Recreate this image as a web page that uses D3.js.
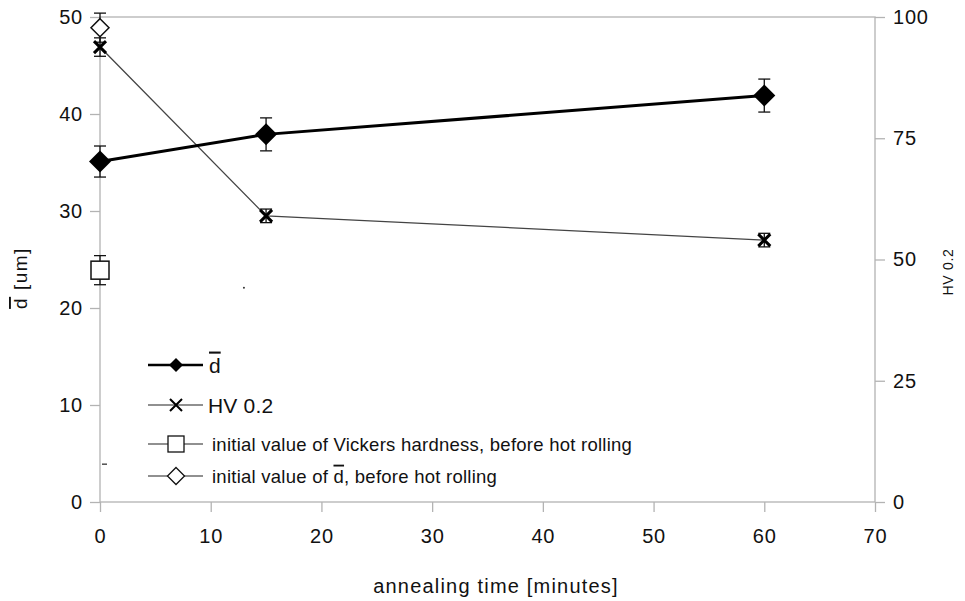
<!DOCTYPE html>
<html>
<head>
<meta charset="utf-8">
<script src="https://cdn.jsdelivr.net/npm/d3@7"></script>
<style>
  body { margin: 0; background: #fff; }
  text { font-family: "Liberation Sans", Arial, sans-serif; fill: #111; }
  .bar { text-decoration: overline; }
</style>
</head>
<body>
<svg id="chart" width="965" height="601"></svg>
<script>
// data
const times = [0, 15, 60];
const dMean = [35.1, 37.9, 41.9];
const dErr = [1.6, 1.7, 1.7];
const hv = [93.8, 59.0, 54.0];
const hvErr = [1.9, 1.4, 1.4];
const initHv = [{ t: 0, v: 47.8, e: 3.0 }];
const initD = [{ t: 0, v: 48.9, e: 1.5 }];
const xTicks = [0, 10, 20, 30, 40, 50, 60, 70];
const leftTicks = [0, 10, 20, 30, 40, 50];
const rightTicks = [0, 25, 50, 75, 100];

const svg = d3.select('#chart');
const pLeft = 100, pRight = 875, pTop = 17, pBottom = 502;
const axisColor = '#b3b3b3';

const x = d3.scaleLinear().domain([0, 70]).range([pLeft, pRight]);
const yL = d3.scaleLinear().domain([0, 50]).range([pBottom, pTop]);
const yR = d3.scaleLinear().domain([0, 100]).range([pBottom, pTop]);

// frame
svg.append('rect')
  .attr('x', pLeft).attr('y', pTop)
  .attr('width', pRight - pLeft).attr('height', pBottom - pTop)
  .attr('fill', 'none').attr('stroke', axisColor).attr('stroke-width', 1.3);

// axes
function styleAxis(g) {
  g.select('.domain').remove();
  g.selectAll('line').attr('stroke', axisColor).attr('stroke-width', 1.3);
  g.selectAll('text').style('font-size', '20px').style('letter-spacing', '0.8px').attr('fill', '#111');
}
svg.append('g').attr('transform', `translate(0,${pBottom})`)
  .call(d3.axisBottom(x).tickValues(xTicks).tickSize(10).tickPadding(17))
  .call(styleAxis);
svg.append('g').attr('transform', `translate(${pLeft},0)`)
  .call(d3.axisLeft(yL).tickValues(leftTicks).tickSize(10).tickPadding(7))
  .call(styleAxis);
svg.append('g').attr('transform', `translate(${pRight},0)`)
  .call(d3.axisRight(yR).tickValues(rightTicks).tickSize(10).tickPadding(8))
  .call(styleAxis);

// stray marks seen in the picture
svg.append('line').attr('x1', pLeft + 2).attr('x2', pLeft + 7)
  .attr('y1', yL(3.9)).attr('y2', yL(3.9)).attr('stroke', '#333').attr('stroke-width', 1.3);
svg.append('circle').attr('cx', x(13)).attr('cy', yL(22.1)).attr('r', 1).attr('fill', '#333');

// axis titles
svg.append('text').attr('x', 496).attr('y', 593)
  .attr('text-anchor', 'middle').style('font-size', '20px').style('letter-spacing', '1.2px')
  .text('annealing time [minutes]');
const yt = svg.append('text').attr('transform', 'translate(27,278) rotate(-90)')
  .attr('text-anchor', 'middle').style('font-size', '19px').style('letter-spacing', '1.5px');
yt.append('tspan').attr('class', 'bar').text('d');
yt.append('tspan').text(' [um]');
svg.append('text').attr('transform', 'translate(953,272) rotate(-90)')
  .attr('text-anchor', 'middle').style('font-size', '14px').style('letter-spacing', '0.7px')
  .text('HV 0.2');

// error bars
function errorBars(data, y, cap) {
  const g = svg.append('g').attr('stroke', '#111').attr('stroke-width', 1.3);
  data.forEach(d => {
    g.append('line').attr('x1', x(d.t)).attr('x2', x(d.t))
      .attr('y1', y(d.v - d.e)).attr('y2', y(d.v + d.e));
    [d.v - d.e, d.v + d.e].forEach(v => {
      g.append('line').attr('x1', x(d.t) - cap).attr('x2', x(d.t) + cap)
        .attr('y1', y(v)).attr('y2', y(v));
    });
  });
}

const dData = times.map((t, i) => ({ t, v: dMean[i], e: dErr[i] }));
const hvData = times.map((t, i) => ({ t, v: hv[i], e: hvErr[i] }));

// HV line
svg.append('path').datum(hvData)
  .attr('d', d3.line().x(d => x(d.t)).y(d => yR(d.v)))
  .attr('fill', 'none').attr('stroke', '#444').attr('stroke-width', 1.3);
errorBars(hvData, yR, 6);

// d line
svg.append('path').datum(dData)
  .attr('d', d3.line().x(d => x(d.t)).y(d => yL(d.v)))
  .attr('fill', 'none').attr('stroke', '#000').attr('stroke-width', 3);
errorBars(dData, yL, 6);
errorBars(initHv, yR, 6);
errorBars(initD, yL, 6);

// markers
const diamond = s => `M0,${-s}L${s},0L0,${s}L${-s},0Z`;
const cross = s => `M${-s},${-s}L${s},${s}M${-s},${s}L${s},${-s}`;

svg.selectAll('.dmark').data(dData).join('path')
  .attr('transform', d => `translate(${x(d.t)},${yL(d.v)})`)
  .attr('d', diamond(11)).attr('fill', '#000');
svg.selectAll('.hvmark').data(hvData).join('path')
  .attr('transform', d => `translate(${x(d.t)},${yR(d.v)})`)
  .attr('d', cross(6)).attr('stroke', '#000').attr('stroke-width', 3).attr('fill', 'none');
svg.selectAll('.sqmark').data(initHv).join('rect')
  .attr('x', d => x(d.t) - 9).attr('y', d => yR(d.v) - 9)
  .attr('width', 18).attr('height', 18)
  .attr('fill', '#fff').attr('stroke', '#111').attr('stroke-width', 1.5);
svg.selectAll('.dimark').data(initD).join('path')
  .attr('transform', d => `translate(${x(d.t)},${yL(d.v)})`)
  .attr('d', diamond(9)).attr('fill', '#fff').attr('stroke', '#111').attr('stroke-width', 1.5);

// legend
const legend = svg.append('g');
const lx1 = 148, lx2 = 203, lm = 176;
function legendRow(y, thick, marker, parts, fs, tx, ls) {
  legend.append('line').attr('x1', lx1).attr('x2', lx2).attr('y1', y).attr('y2', y)
    .attr('stroke', thick ? '#000' : '#222').attr('stroke-width', thick ? 2.6 : 1.2);
  marker(legend.append('g').attr('transform', `translate(${lm},${y})`));
  const t = legend.append('text').attr('x', tx).attr('y', y).attr('dy', '0.36em')
    .style('font-size', fs + 'px').style('letter-spacing', ls + 'px');
  parts.forEach(p => t.append('tspan').attr('class', p.bar ? 'bar' : null).text(p.s));
}
legendRow(365, true, g => g.append('path').attr('d', diamond(7)).attr('fill', '#000'),
  [{ s: 'd', bar: true }], 21, 209, 0);
legendRow(405, false, g => g.append('path').attr('d', cross(6))
  .attr('stroke', '#000').attr('stroke-width', 2).attr('fill', 'none'),
  [{ s: 'HV 0.2' }], 21, 208, 0.2);
legendRow(444, false, g => g.append('rect').attr('x', -8).attr('y', -8)
  .attr('width', 16).attr('height', 16).attr('fill', '#fff')
  .attr('stroke', '#111').attr('stroke-width', 1.3),
  [{ s: 'initial value of Vickers hardness, before hot rolling' }], 18.5, 212, 0.25);
legendRow(476, false, g => g.append('path').attr('d', diamond(8.5))
  .attr('fill', '#fff').attr('stroke', '#111').attr('stroke-width', 1.3),
  [{ s: 'initial value of ' }, { s: 'd', bar: true }, { s: ', before hot rolling' }], 18.5, 212, 0.25);
</script>
</body>
</html>
